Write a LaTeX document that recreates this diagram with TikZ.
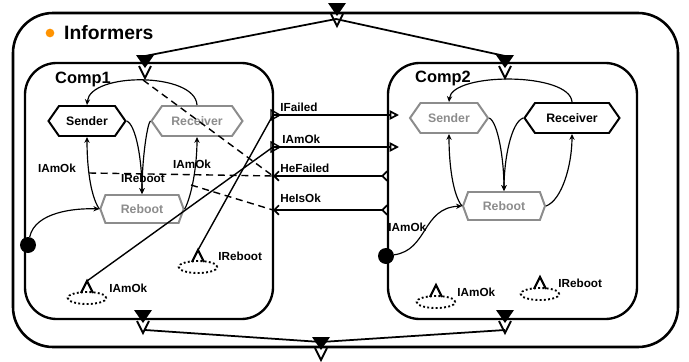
\documentclass[tikz,border=0pt]{standalone}
\usepackage{fontspec}
\setmainfont{Liberation Sans}
\usetikzlibrary{shapes.symbols,arrows.meta}

\tikzset{
  comp/.style={line width=2pt, rounded corners=0.95cm},
  hexon/.style={signal, signal to=west and east, signal pointer angle=110, draw=black,
    line width=1.7pt, font=\bfseries\fontsize{10.5}{12}\selectfont, minimum height=0.9cm, inner sep=1pt},
  hexoff/.style={hexon, draw=black!45, text=black!45},
  rebootbox/.style={hexoff, signal pointer angle=140, minimum height=0.84cm},
  trans/.style={-{Stealth[length=5pt,width=4.5pt]}, line width=1pt},
  evt/.style={line width=1.5pt},
  lbl/.style={font=\bfseries\fontsize{10}{12}\selectfont, inner sep=1pt},
  title/.style={font=\bfseries\fontsize{14}{16}\selectfont, inner sep=0pt},
  initdot/.style={circle, fill=black, minimum size=0.48cm, inner sep=0pt},
  portdn/.pic={
    \fill (-9,-10) -- (9,-10) -- (0,3) -- cycle;
    \draw[line width=1.6pt] (-6,1) -- (0,13) -- (6,1);
  },
  evmark/.pic={
    \draw[dotted, line width=1.6pt] (0,17) ellipse [x radius=0.58cm, y radius=0.18cm];
    \draw[line width=1.8pt] (-6,12) -- (0,0) -- (6,12);
  }
}

\begin{document}
\begin{tikzpicture}[x=0.03cm, y=-0.03cm]
\useasboundingbox (0,0) rectangle (689,362);
% outer component
\draw[line width=2.2pt, rounded corners=1.2cm] (13,13) rectangle (678,347);
\fill[orange!85!yellow] (50,33) circle [radius=0.13cm];
\node[anchor=west, font=\bfseries\fontsize{16.5}{18}\selectfont, inner sep=0pt] (inf) at (64,33) {Informers};

% inner components
\draw[comp] (25,63) rectangle (273,319);
\draw[comp] (388,63) rectangle (637,319);
\node[title, anchor=west] (t1) at (55,79) {Comp1};
\node[title, anchor=west] (t2) at (415,78) {Comp2};

% ports top / bottom
\pic at (337,13) {portdn};
\pic at (145,65) {portdn};
\pic at (505,65) {portdn};
\pic at (143,320) {portdn};
\pic at (505,320) {portdn};
\pic at (321,347) {portdn};
\coordinate (otop) at (336,19);
\coordinate (c1top) at (145,56);
\coordinate (c2top) at (505,56);
\coordinate (c1bot) at (145,330);
\coordinate (c2bot) at (505,330);
\coordinate (obot) at (321,342);
\draw[line width=1.5pt] (otop) -- (c1top);
\draw[line width=1.5pt] (otop) -- (c2top);
\draw[line width=1.5pt] (c1bot) -- (obot);
\draw[line width=1.5pt] (c2bot) -- (obot);

% Comp1
\node[hexon, minimum width=2.31cm] (s1) at (87,121) {Sender};
\node[hexoff, minimum width=2.73cm] (r1) at (197,121) {Receiver};
\node[rebootbox, minimum width=2.5cm] (b1) at (142,209) {Reboot};
\node[initdot] (d1) at (28,245) {};
\draw[trans] (s1.east) .. controls (136,125) and (142,160) .. (b1.north);
\draw[trans] (r1.west) .. controls (147,125) and (142,160) .. (b1.north);
\draw[trans] (b1.west) .. controls (90,195) and (87,165) .. (s1.south);
\draw[trans] (b1.east) .. controls (192,195) and (197,165) .. (r1.south);
\draw[trans] (r1.north) .. controls (195,72) and (90,72) .. (s1.north);
\draw[trans] (d1) .. controls (35,212) and (75,208) .. (b1.west);
\node[lbl] (l1a) at (57,168) {IAmOk};
\node[lbl] (l1r) at (143,178) {IReboot};
\node[lbl] (l1b) at (192,164) {IAmOk};
\pic at (87,281) {evmark};
\pic at (198,250) {evmark};
\coordinate (m1a) at (87,281);
\coordinate (m1r) at (198,250);
\node[lbl, anchor=west] (l1m) at (108,288) {IAmOk};
\node[lbl, anchor=west] (l1n) at (217,256) {IReboot};

% Comp2
\node[hexoff, minimum width=2.34cm] (s2) at (449,118) {Sender};
\node[hexon, minimum width=2.85cm] (r2) at (572,118) {Receiver};
\node[rebootbox, minimum width=2.46cm] (b2) at (504,206) {Reboot};
\node[initdot] (d2) at (386,256) {};
\draw[trans] (s2.east) .. controls (498,122) and (504,160) .. (b2.north);
\draw[trans] (r2.west) .. controls (511,122) and (504,160) .. (b2.north);
\draw[trans] (b2.west) .. controls (453,195) and (449,165) .. (s2.south);
\draw[trans] (b2.east) .. controls (562,200) and (572,165) .. (r2.south);
\draw[trans] (r2.north) .. controls (570,72) and (452,72) .. (s2.north);
\draw[trans] (d2) .. controls (428,250) and (422,208) .. (b2.west);
\node[lbl, anchor=west] (l2a) at (387,227) {IAmOk};
\pic at (436,285) {evmark};
\pic at (540,277) {evmark};
\node[lbl, anchor=west] (l2m) at (456,292) {IAmOk};
\node[lbl, anchor=west] (l2n) at (557,283) {IReboot};

% event ports between Comp1 and Comp2
\coordinate (c1f) at (273,115);
\coordinate (c1a) at (273,147);
\coordinate (c1h) at (273,176);
\coordinate (c1k) at (273,210);
\coordinate (c2f) at (399,115);
\coordinate (c2a) at (399,147);
\coordinate (c2h) at (388,176);
\coordinate (c2k) at (388,210);
\foreach \y in {115,147}
  \draw[line width=1.2pt] (271,\y-5) -- (280,\y) -- (271,\y+5) -- cycle;
\draw[evt, -{Triangle[open,length=8pt,width=8pt]}] (c1f) -- (c2f);
\draw[evt, -{Triangle[open,length=8pt,width=8pt]}] (c1a) -- (c2a);
\draw[evt, {Straight Barb[reversed,length=4pt,width=8pt]}-{Straight Barb[length=4pt,width=8pt]}] (c2h) -- (c1h);
\draw[evt, {Straight Barb[reversed,length=4pt,width=8pt]}-{Straight Barb[length=4pt,width=8pt]}] (c2k) -- (c1k);
\node[lbl, anchor=west] (lf) at (279,107) {IFailed};
\node[lbl, anchor=west] (la) at (281,139) {IAmOk};
\node[lbl, anchor=west] (lh) at (279,168) {HeFailed};
\node[lbl, anchor=west] (lk) at (279,198) {HeIsOk};

% links inside Comp1
\draw[line width=1.2pt] (m1a) -- (c1a);
\draw[line width=1.2pt] (m1r) -- (c1f);
\draw[dashed, dash pattern=on 6pt off 4pt, line width=1.2pt] (143,80) -- (c1h);
\draw[dashed, dash pattern=on 6pt off 4pt, line width=1.2pt] (89,173) -- (c1h);
\draw[dashed, dash pattern=on 6pt off 4pt, line width=1.2pt] (191,185) -- (c1k);
\end{tikzpicture}
\end{document}
